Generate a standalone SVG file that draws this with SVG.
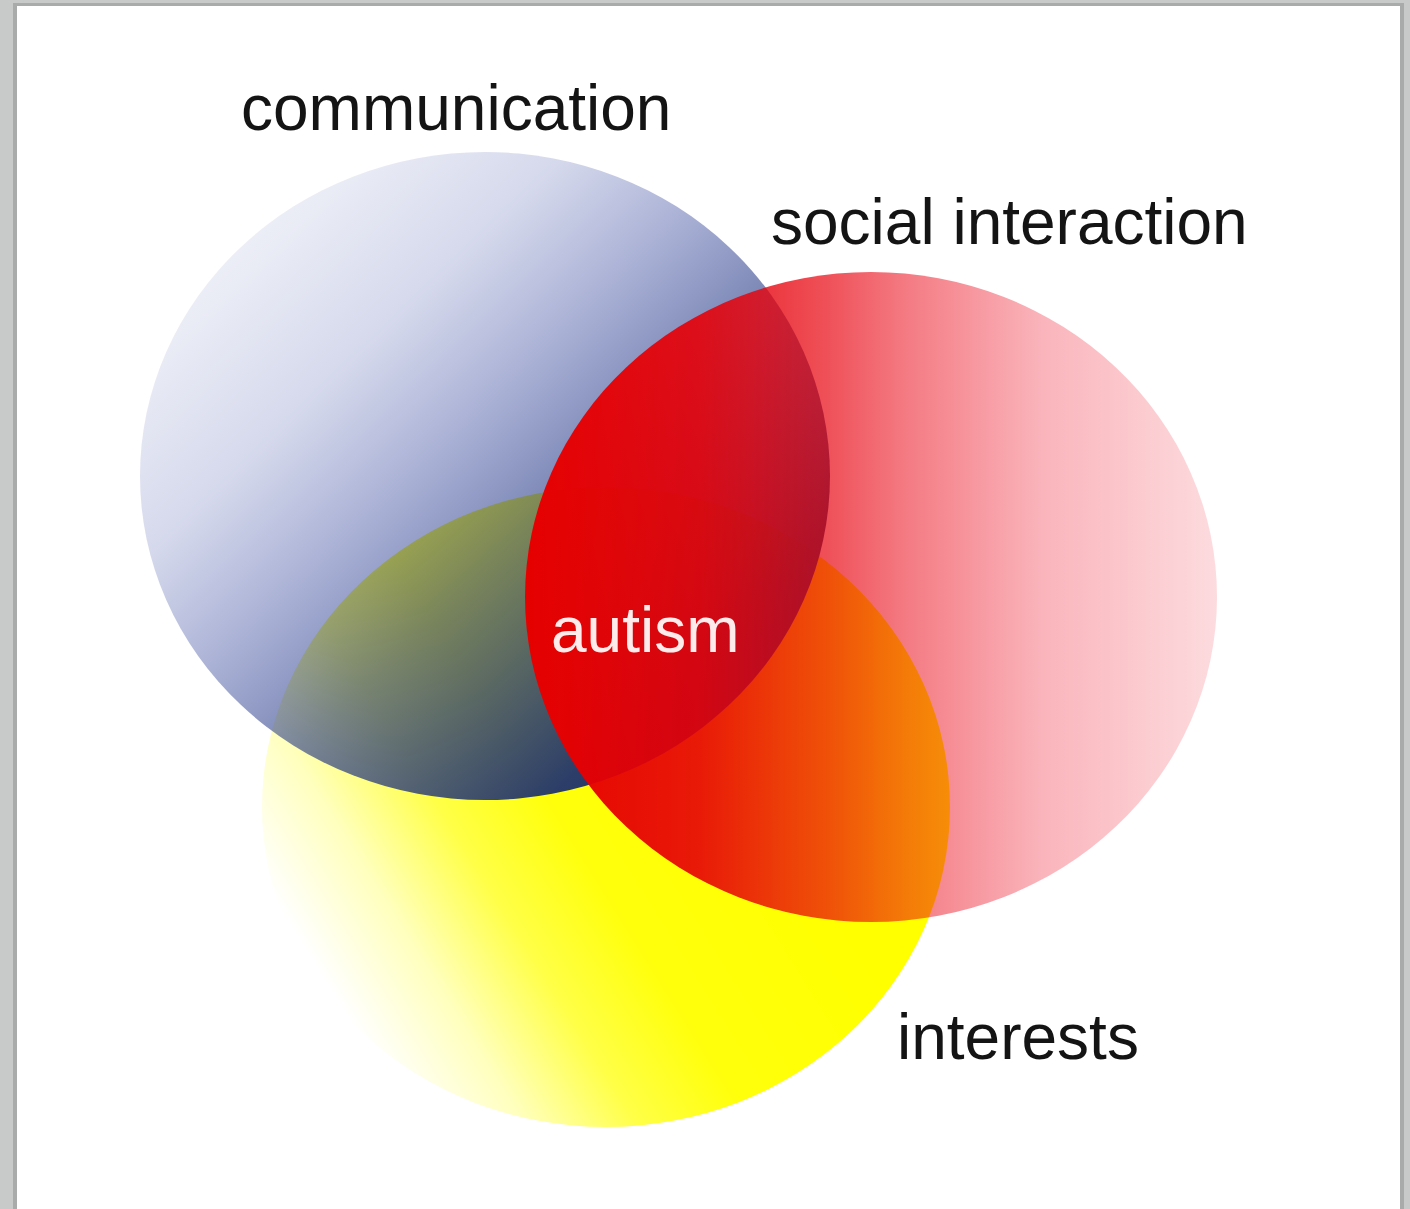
<svg xmlns="http://www.w3.org/2000/svg" width="1410" height="1209" viewBox="0 0 1410 1209">
  <style>
    .lbl { font-family: "Liberation Sans", Arial, sans-serif; font-size: 64px; fill: #141414; }
    .inner { font-family: "Liberation Sans", Arial, sans-serif; font-size: 64px; fill: #fdeaea; }
  </style>
  <defs>
    <linearGradient id="gYellow" gradientUnits="userSpaceOnUse" x1="400" y1="1100" x2="800" y2="850">
      <stop offset="0" stop-color="#ffff00" stop-opacity="0"/>
      <stop offset="0.2" stop-color="#ffff00" stop-opacity="0.26"/>
      <stop offset="0.4" stop-color="#ffff00" stop-opacity="0.72"/>
      <stop offset="0.6" stop-color="#ffff00" stop-opacity="0.95"/>
      <stop offset="1" stop-color="#ffff00" stop-opacity="1"/>
    </linearGradient>
    <linearGradient id="gBlue" gradientUnits="userSpaceOnUse" x1="220" y1="200" x2="700" y2="700">
      <stop offset="0" stop-color="#5060b0" stop-opacity="0.07"/>
      <stop offset="0.3" stop-color="#4050a8" stop-opacity="0.22"/>
      <stop offset="0.5" stop-color="#34469a" stop-opacity="0.45"/>
      <stop offset="0.65" stop-color="#2e4088" stop-opacity="0.64"/>
      <stop offset="0.95" stop-color="#26386b" stop-opacity="0.97"/>
      <stop offset="1" stop-color="#26386b" stop-opacity="1"/>
    </linearGradient>
    <linearGradient id="gRed" gradientUnits="userSpaceOnUse" x1="525" y1="0" x2="1218" y2="0">
      <stop offset="0" stop-color="#e60000" stop-opacity="1"/>
      <stop offset="0.25" stop-color="#e60008" stop-opacity="0.9"/>
      <stop offset="0.44" stop-color="#e8000c" stop-opacity="0.68"/>
      <stop offset="0.55" stop-color="#ea0010" stop-opacity="0.52"/>
      <stop offset="0.75" stop-color="#ee0018" stop-opacity="0.29"/>
      <stop offset="1" stop-color="#ee0018" stop-opacity="0.14"/>
    </linearGradient>
  </defs>

  <rect x="0" y="0" width="1410" height="1209" fill="#c8c9c9"/>
  <rect x="13" y="3" width="1391" height="1206" fill="#a9aaaa"/>
  <rect x="17" y="6" width="1383" height="1203" fill="#ffffff"/>

  <g id="interests">
    <ellipse cx="606" cy="807" rx="344" ry="320" fill="url(#gYellow)"/>
    <text class="lbl" x="897" y="1059">interests</text>
  </g>

  <g id="communication">
    <ellipse cx="485" cy="476" rx="345" ry="324" fill="url(#gBlue)"/>
    <text class="lbl" x="241" y="130">communication</text>
  </g>

  <g id="social-interaction">
    <ellipse cx="871" cy="597" rx="346" ry="325" fill="url(#gRed)"/>
    <text class="lbl" x="771" y="244">social interaction</text>
  </g>

  <g id="autism">
    <text class="inner" x="551" y="652">autism</text>
  </g>

  <g id="connectors"></g>
</svg>
